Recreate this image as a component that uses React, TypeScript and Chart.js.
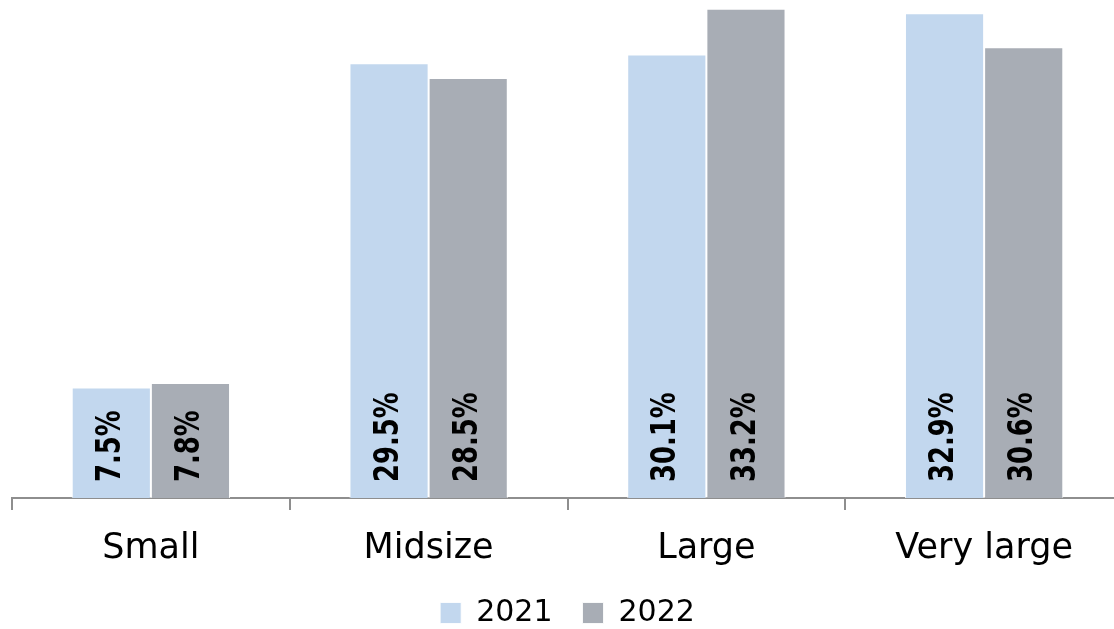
import React, { useEffect, useRef } from "react";
import { Chart, registerables } from "chart.js";

Chart.register(...registerables);

// Company size groups and the share of each year
const categories = ["Small", "Midsize", "Large", "Very large"];
const seriesNames = ["2021", "2022"];
const values2021 = [7.5, 29.5, 30.1, 32.9];
const values2022 = [7.8, 28.5, 33.2, 30.6];

const COLOR_2021 = "#C2D7EE";
const COLOR_2022 = "#A8ADB5";
const AXIS_COLOR = "#8E8E8E";

// Writes each bar's value vertically, starting just above the baseline
const barValueLabels = {
  id: "barValueLabels",
  afterDatasetsDraw(chart: any) {
    const ctx = chart.ctx;
    ctx.save();
    ctx.fillStyle = "#000000";
    ctx.font = 'bold 33px "DejaVu Sans Condensed", "DejaVu Sans", sans-serif';
    ctx.textAlign = "left";
    ctx.textBaseline = "middle";
    chart.data.datasets.forEach((ds: any, di: number) => {
      const meta = chart.getDatasetMeta(di);
      meta.data.forEach((bar: any, i: number) => {
        const v = ds.data[i];
        ctx.save();
        ctx.translate(bar.x, bar.base - 16);
        ctx.rotate(-Math.PI / 2);
        // slightly narrower glyphs along the bar
        ctx.scale(0.87, 1);
        ctx.fillText(v.toFixed(1) + "%", 0, 0);
        ctx.restore();
      });
    });
    ctx.restore();
  },
};

export default function App() {
  const canvasRef = useRef<HTMLCanvasElement | null>(null);

  useEffect(() => {
    const canvas = canvasRef.current;
    if (!canvas) return;
    const chart = new Chart(canvas, {
      type: "bar",
      data: {
        labels: categories,
        datasets: [
          {
            label: seriesNames[0],
            data: values2021,
            backgroundColor: COLOR_2021,
            borderColor: "rgba(255,255,255,0.85)",
            borderWidth: 1,
          },
          {
            label: seriesNames[1],
            data: values2022,
            backgroundColor: COLOR_2022,
            borderColor: "rgba(255,255,255,0.85)",
            borderWidth: 1,
          },
        ],
      },
      options: {
        responsive: false,
        animation: false,
        devicePixelRatio: 1,
        layout: { padding: { left: 12, right: 0, top: 0, bottom: 0 } },
        datasets: {
          bar: { categoryPercentage: 0.57, barPercentage: 1 },
        },
        scales: {
          x: {
            grid: {
              offset: true,
              drawOnChartArea: false,
              drawTicks: true,
              tickLength: 12,
              color: AXIS_COLOR,
              lineWidth: 2,
            },
            border: { display: true, color: AXIS_COLOR, width: 2 },
            ticks: {
              color: "#000000",
              padding: 18,
              font: { family: '"DejaVu Sans", sans-serif', size: 35 },
            },
            // tighten the gap between the category names and the legend
            afterFit: (scale: any) => {
              scale.height -= 20;
            },
          },
          y: {
            display: false,
            min: 0,
            max: 33.8,
          },
        },
        plugins: {
          legend: {
            display: true,
            position: "bottom",
            labels: {
              boxWidth: 21,
              boxHeight: 21,
              padding: 30,
              color: "#000000",
              font: { family: '"DejaVu Sans", sans-serif', size: 30 },
            },
          },
          tooltip: { enabled: false },
        },
      },
      plugins: [barValueLabels],
    });
    return () => chart.destroy();
  }, []);

  return (
    <div
      style={{
        position: "fixed",
        left: 0,
        top: 0,
        width: 1114,
        height: 629,
        overflow: "hidden",
        background: "#ffffff",
      }}
    >
      <canvas ref={canvasRef} width={1123} height={638} />
    </div>
  );
}
